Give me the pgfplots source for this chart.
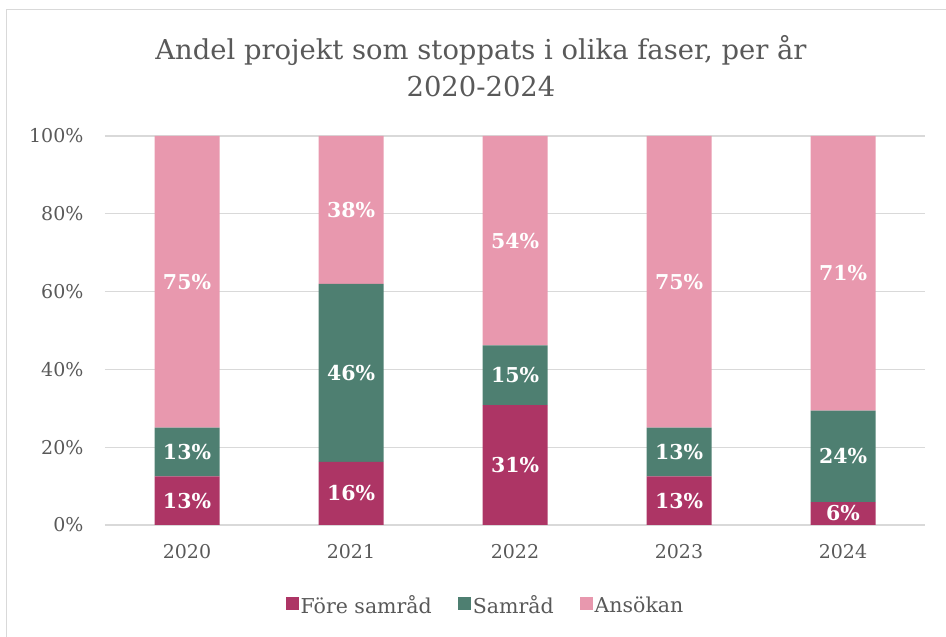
\documentclass[border=0pt]{standalone}
\usepackage{pgfplots}
\pgfplotsset{compat=1.18}
\usepackage{pgfplotstable}
\usepackage{fontspec}
\setmainfont{DejaVu Serif}
\definecolor{fore}{HTML}{AD3565}
\definecolor{samr}{HTML}{4E7F71}
\definecolor{anso}{HTML}{E898AE}
\definecolor{txt}{HTML}{595959}
\definecolor{gridc}{HTML}{D9D9D9}
\pgfplotstableread{
x fore samr anso
0 12.5 12.5 75.0
1 16.2 45.8 38.0
2 30.8 15.4 53.8
3 12.5 12.5 75.0
4 5.9 23.5 70.6
}\bars
\pgfplotstableread{
x y label
0 6.25 13
0 18.75 13
0 62.5 75
1 8.1 16
1 39.1 46
1 81.0 38
2 15.4 31
2 38.5 15
2 73.1 54
3 6.25 13
3 18.75 13
3 62.5 75
4 2.95 6
4 17.65 24
4 64.7 71
}\labels
\pgfplotsset{base/.style={scale only axis, width=820pt, height=389pt,
  at={(105pt,112pt)}, anchor=south west, xmin=-0.5, xmax=4.5, ymin=0, ymax=100,
  enlargelimits=false}}
\begin{document}
\begin{tikzpicture}
\path[use as bounding box] (0,0) rectangle (946pt,637pt);
\draw[gridc, line width=1.6pt] (6.5pt,0) -- (6.5pt,627.5pt) -- (946pt,627.5pt);
\node[text=txt, align=center, font=\fontsize{27.4}{37}\selectfont] at (481pt,571pt)
  {Andel projekt som stoppats i olika faser, per år\\2020-2024};
\begin{axis}[base, ybar stacked, bar width=65pt,
  axis line style={draw=none}, major tick length=0pt,
  ymajorgrids, grid style={gridc, line width=1.3pt},
  xtick={0,1,2,3,4}, xticklabels={2020,2021,2022,2023,2024},
  ytick={0,20,40,60,80,100}, yticklabels={0\%,20\%,40\%,60\%,80\%,100\%},
  tick label style={text=txt, font=\fontsize{19}{22}\selectfont},
  xticklabel style={yshift=-16pt},
  yticklabel style={xshift=-18pt},
  legend columns=3,
  legend style={draw=none, at={(0.464,-0.206)}, anchor=center,
    font=\fontsize{20.5}{22}\selectfont, text=txt, inner sep=0pt,
    nodes={inner xsep=2pt},
    /tikz/column 2/.style={column sep=24pt},
    /tikz/column 4/.style={column sep=24pt}},
  legend image code/.code={\fill[#1, draw=none] (0pt,-5pt) rectangle (13pt,8pt);},
  ]
\addplot[fill=fore, draw=none] table[x=x, y=fore] {\bars};
\addplot[fill=samr, draw=none] table[x=x, y=samr] {\bars};
\addplot[fill=anso, draw=none] table[x=x, y=anso] {\bars};
\legend{Före samråd, Samråd, Ansökan}
\end{axis}
\begin{axis}[base, hide axis]
\addplot[draw=none, mark=none, point meta=explicit symbolic,
  nodes near coords={\pgfplotspointmeta\%},
  nodes near coords style={anchor=center, text=white, font=\bfseries\fontsize{20.5}{22}\selectfont}]
  table[x=x, y=y, meta=label] {\labels};
\end{axis}
\end{tikzpicture}
\end{document}
